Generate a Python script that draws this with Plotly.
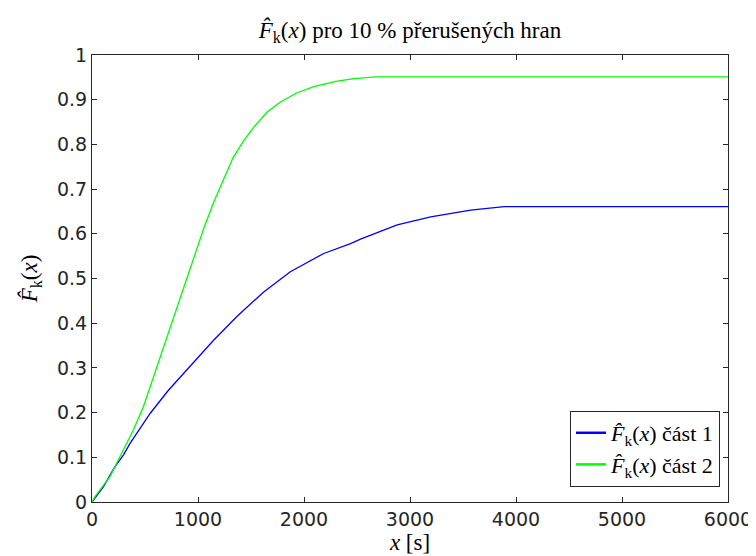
import plotly.graph_objects as go

# Part 1 (blue) empirical CDF estimate
x_part1 = [0, 107, 217, 296, 359, 548, 721, 926, 1147, 1367, 1620, 1871, 2186, 2439, 2533, 2879, 3195, 3573, 3888, 6000]
y_part1 = [0, 0.034, 0.079, 0.105, 0.131, 0.198, 0.25, 0.303, 0.362, 0.415, 0.47, 0.515, 0.556, 0.578, 0.588, 0.62, 0.638, 0.653, 0.661, 0.661]

# Part 2 (green) empirical CDF estimate
x_part2 = [0, 28, 170, 312, 390, 485, 564, 658, 753, 816, 910, 989, 1060, 1147, 1241, 1330, 1430, 1525, 1650, 1777, 1930, 2092, 2300, 2470, 2675, 6000]
y_part2 = [0, 0.012, 0.057, 0.124, 0.161, 0.213, 0.268, 0.334, 0.4, 0.445, 0.51, 0.565, 0.616, 0.67, 0.722, 0.77, 0.808, 0.838, 0.872, 0.895, 0.915, 0.929, 0.941, 0.947, 0.951, 0.951]

x_ticks = [0, 1000, 2000, 3000, 4000, 5000, 6000]
y_ticks = [0, 0.1, 0.2, 0.3, 0.4, 0.5, 0.6, 0.7, 0.8, 0.9, 1]

series_names = ["část 1", "část 2"]
series_colors = ["#0000FF", "#00FF00"]

FK = "<i>F̂</i><sub>k</sub>(<i>x</i>)"
SERIF = "Liberation Serif, DejaVu Serif, serif"
SANS = "DejaVu Sans, sans-serif"
AX = "#262626"

fig = go.Figure()
for xs, ys, nm, col in [(x_part1, y_part1, series_names[0], series_colors[0]),
                        (x_part2, y_part2, series_names[1], series_colors[1])]:
    fig.add_trace(go.Scatter(x=xs, y=ys, mode="lines", line=dict(color=col, width=1.3),
                             name=FK + " " + nm, showlegend=False))
for nm, col in zip(series_names, series_colors):
    fig.add_trace(go.Scatter(x=[None], y=[None], mode="lines", line=dict(color=col, width=2.5),
                             name=FK + " " + nm, showlegend=True))

axis_common = dict(showgrid=False, zeroline=False, showline=True, linecolor=AX, linewidth=1,
                   mirror="ticks", ticks="inside", ticklen=5, tickcolor=AX, automargin=False,
                   tickfont=dict(family=SANS, size=19, color=AX))

fig.update_layout(
    width=748, height=548,
    margin=dict(l=84, r=28, t=47, b=54, autoexpand=False),
    paper_bgcolor="white", plot_bgcolor="white",
    title=dict(text=FK + " pro 10 % přerušených hran", x=0.5, xref="paper", xanchor="center",
               y=0.96, yanchor="middle",
               font=dict(family=SERIF, size=23, color="#000000")),
    xaxis=dict(range=[0, 6000], tickvals=x_ticks,
               title=dict(text="<i>x</i> [s]", font=dict(family=SERIF, size=23, color="#000000"), standoff=0),
               **axis_common),
    yaxis=dict(range=[0, 1], tickvals=y_ticks,
               title=dict(text=FK, font=dict(family=SERIF, size=23, color="#000000"), standoff=12),
               **axis_common),
    legend=dict(x=0.9874, y=0.0336, xanchor="right", yanchor="bottom",
                bgcolor="white", bordercolor=AX, borderwidth=1,
                font=dict(family=SERIF, size=22, color="#000000"),
                tracegroupgap=0),
    showlegend=True,
)

fig.write_html("out.html")
